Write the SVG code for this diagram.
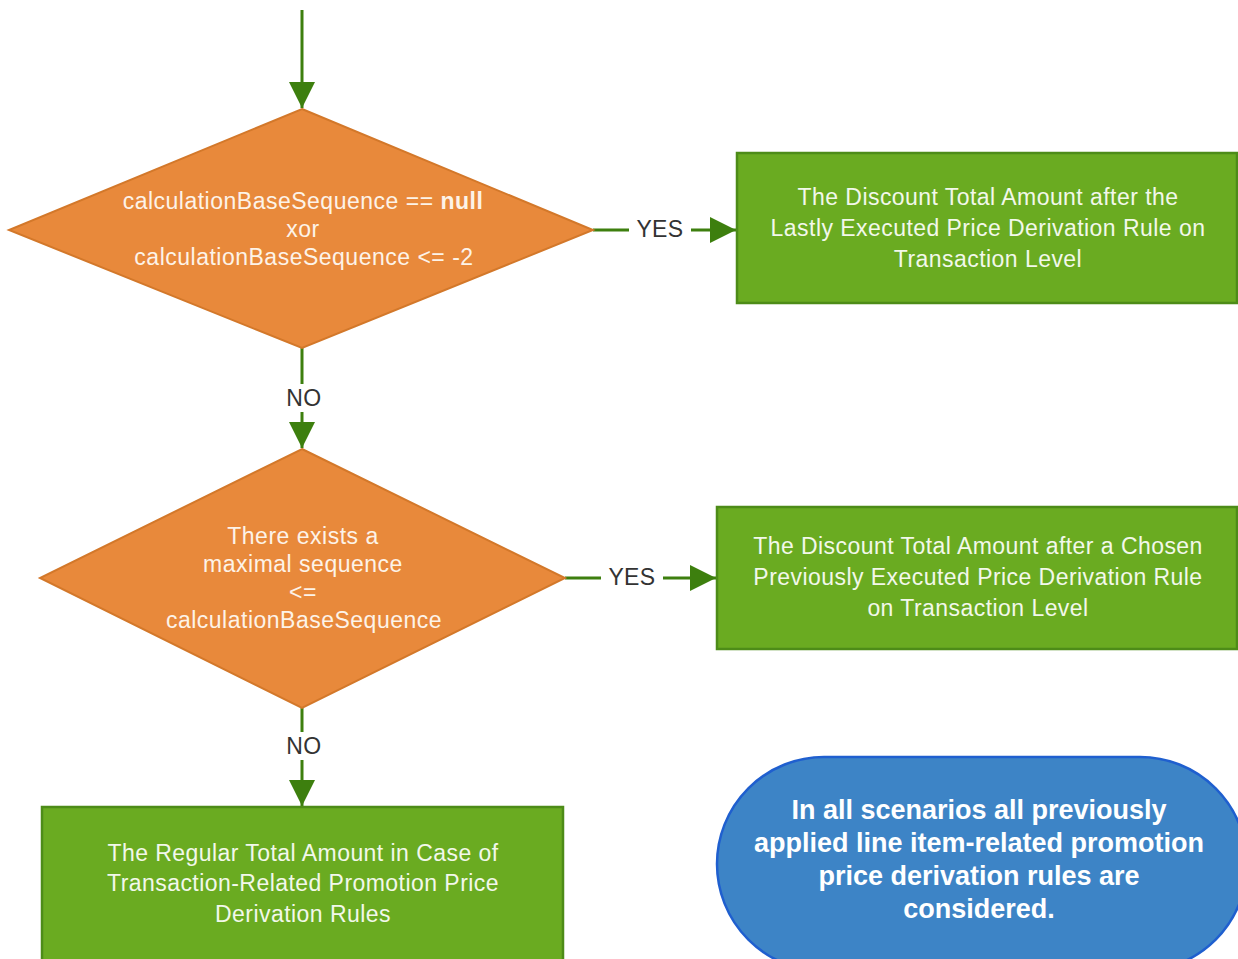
<svg xmlns="http://www.w3.org/2000/svg" width="1238" height="959" viewBox="0 0 1238 959">
  <defs>
    <marker id="arrow" markerUnits="userSpaceOnUse" markerWidth="28" markerHeight="28" viewBox="0 0 28 28" refX="26" refY="14" orient="auto">
      <path d="M0,1 L26,14 L0,27 Z" fill="#3d7f0e"/>
    </marker>
    <style>
      .bg { fill: #ffffff; }
      .decision { fill: #e8893b; stroke: #d3782a; stroke-width: 2; }
      .result { fill: #6aab21; stroke: #4d8c18; stroke-width: 2.5; }
      .note { fill: #3d84c6; stroke: #1f5fcf; stroke-width: 2.5; }
      .wire { stroke: #3d7f0e; stroke-width: 3; fill: none; }
      .lbl { font-family: "Liberation Sans", Arial, sans-serif; font-size: 23px; fill: #333333; text-anchor: middle; letter-spacing: 0.4px; }
      .dtext { font-family: "Liberation Sans", Arial, sans-serif; font-size: 23px; fill: #fdf3e8; text-anchor: middle; letter-spacing: 0.5px; }
      .rtext { font-family: "Liberation Sans", Arial, sans-serif; font-size: 23px; fill: #f2f8ea; text-anchor: middle; letter-spacing: 0.45px; }
      .ntext { font-family: "Liberation Sans", Arial, sans-serif; font-size: 27px; font-weight: bold; fill: #ffffff; text-anchor: middle; }
    </style>
  </defs>

  <rect class="bg" x="0" y="0" width="1238" height="959"/>

  <!-- connectors -->
  <g id="connectors">
    <path class="wire" d="M302,10 L302,108" marker-end="url(#arrow)"/>
    <!-- decision 1 YES -->
    <path class="wire" d="M593,230 L629,230"/>
    <path class="wire" d="M691,230 L736,230" marker-end="url(#arrow)"/>
    <text class="lbl" x="660" y="237">YES</text>
    <!-- decision 1 NO -->
    <path class="wire" d="M302,348 L302,384"/>
    <path class="wire" d="M302,412 L302,448" marker-end="url(#arrow)"/>
    <text class="lbl" x="304" y="406">NO</text>
    <!-- decision 2 YES -->
    <path class="wire" d="M565,578 L601,578"/>
    <path class="wire" d="M663,578 L716,578" marker-end="url(#arrow)"/>
    <text class="lbl" x="632" y="585">YES</text>
    <!-- decision 2 NO -->
    <path class="wire" d="M302,708 L302,732"/>
    <path class="wire" d="M302,760 L302,806" marker-end="url(#arrow)"/>
    <text class="lbl" x="304" y="754">NO</text>
  </g>

  <!-- decision: null / <= -2 check -->
  <g id="decision-base-sequence">
    <polygon class="decision" points="302,109 593,230 302,348 9,230"/>
    <text class="dtext" x="303" y="209">calculationBaseSequence == <tspan font-weight="bold">null</tspan></text>
    <text class="dtext" x="303" y="237">xor</text>
    <text class="dtext" x="304" y="265">calculationBaseSequence &lt;= -2</text>
  </g>

  <!-- decision: maximal sequence -->
  <g id="decision-max-sequence">
    <polygon class="decision" points="302,449 565,578 302,708 40,578"/>
    <text class="dtext" x="303" y="544">There exists a</text>
    <text class="dtext" x="303" y="572">maximal sequence</text>
    <text class="dtext" x="303" y="600">&lt;=</text>
    <text class="dtext" x="304" y="628">calculationBaseSequence</text>
  </g>

  <!-- result: last rule -->
  <g id="result-last-rule">
    <rect class="result" x="737" y="153" width="500" height="150"/>
    <text class="rtext" x="988" y="205">The Discount Total Amount after the</text>
    <text class="rtext" x="988" y="236">Lastly Executed Price Derivation Rule on</text>
    <text class="rtext" x="988" y="267">Transaction Level</text>
  </g>

  <!-- result: chosen rule -->
  <g id="result-chosen-rule">
    <rect class="result" x="717" y="507" width="520" height="142"/>
    <text class="rtext" x="978" y="554">The Discount Total Amount after a Chosen</text>
    <text class="rtext" x="978" y="585">Previously Executed Price Derivation Rule</text>
    <text class="rtext" x="978" y="616">on Transaction Level</text>
  </g>

  <!-- result: regular total -->
  <g id="result-regular-total">
    <rect class="result" x="42" y="807" width="521" height="160"/>
    <text class="rtext" x="303" y="861">The Regular Total Amount in Case of</text>
    <text class="rtext" x="303" y="891">Transaction-Related Promotion Price</text>
    <text class="rtext" x="303" y="922">Derivation Rules</text>
  </g>

  <!-- note -->
  <g id="note-line-items">
    <rect class="note" x="717" y="757" width="530" height="214" rx="107" ry="107"/>
    <text class="ntext" x="979" y="819">In all scenarios all previously</text>
    <text class="ntext" x="979" y="852">applied line item-related promotion</text>
    <text class="ntext" x="979" y="885">price derivation rules are</text>
    <text class="ntext" x="979" y="918">considered.</text>
  </g>
</svg>
